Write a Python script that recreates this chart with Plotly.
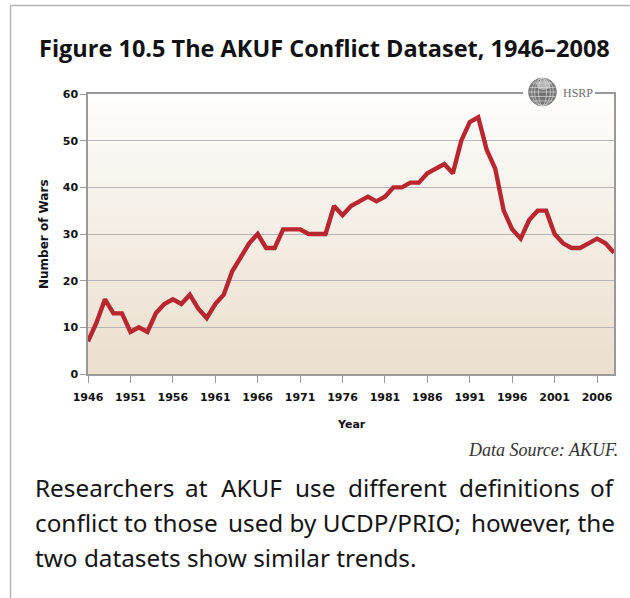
import plotly.graph_objects as go

# ---------------- data ----------------
years = [1946, 1947, 1948, 1949, 1950, 1951, 1952, 1953, 1954, 1955,
         1956, 1957, 1958, 1959, 1960, 1961, 1962, 1963, 1964, 1965,
         1966, 1967, 1968, 1969, 1970, 1971, 1972, 1973, 1974, 1975,
         1976, 1977, 1978, 1979, 1980, 1981, 1982, 1983, 1984, 1985,
         1986, 1987, 1988, 1989, 1990, 1991, 1992, 1993, 1994, 1995,
         1996, 1997, 1998, 1999, 2000, 2001, 2002, 2003, 2004, 2005,
         2006, 2007, 2008]
wars = [7, 11, 16, 13, 13, 9, 10, 9, 13, 15,
        16, 15, 17, 14, 12, 15, 17, 22, 25, 28,
        30, 27, 27, 31, 31, 31, 30, 30, 30, 36,
        34, 36, 37, 38, 37, 38, 40, 40, 41, 41,
        43, 44, 45, 43, 50, 54, 55, 48, 44, 35,
        31, 29, 33, 35, 35, 30, 28, 27, 27, 28,
        29, 28, 26]
x_tick_years = [1946, 1951, 1956, 1961, 1966, 1971, 1976, 1981, 1986, 1991, 1996, 2001, 2006]
x_tick_labels = [str(y) for y in x_tick_years]
y_tick_vals = [0, 10, 20, 30, 40, 50, 60]

title_text = "Figure 10.5 The AKUF Conflict Dataset, 1946\u20132008"
source_text = "Data Source: AKUF."
caption_line1 = ["Researchers", "at", "AKUF", "use", "different", "definitions", "of"]
caption_line2 = ["conflict to those", "used by UCDP/PRIO;", "however, the"]
caption_line3 = "two datasets show similar trends."

# ---------------- geometry helpers (pixel -> paper) ----------------
W, H = 630, 598
ML, MR, MT, MB = 88, 16, 94, 224
PW, PH = W - ML - MR, H - MT - MB


def px(x):
    return (x - ML) / PW


def py(y):
    return (H - MB - y) / PH


fig = go.Figure()
fig.add_trace(go.Scatter(
    x=years, y=wars, mode="lines",
    line=dict(color="#B8262F", width=4.4, shape="linear"),
    hoverinfo="skip", showlegend=False,
))

shapes = []
# vertical gradient background (white top -> beige bottom)
N = 70
top = (255, 255, 255)
bot = (235, 223, 206)
for k in range(N):
    f = 1 - k / N
    c = tuple(int(round(top[i] + (bot[i] - top[i]) * (1 - f + 1 / N) ** 0.9)) for i in range(3))
    shapes.append(dict(type="rect", xref="x domain", yref="y domain",
                       x0=0, x1=1, y0=0, y1=f, layer="below",
                       line=dict(width=0), fillcolor="rgb(%d,%d,%d)" % c))

# page frame lines
shapes.append(dict(type="line", xref="paper", yref="paper",
                   x0=px(10.5), x1=px(640), y0=py(5.5), y1=py(5.5),
                   line=dict(color="#b4b4b4", width=1.5)))
shapes.append(dict(type="line", xref="paper", yref="paper",
                   x0=px(10.5), x1=px(10.5), y0=py(5.5), y1=py(605),
                   line=dict(color="#b4b4b4", width=1.5)))

# white gap behind logo on the top border
shapes.append(dict(type="rect", xref="paper", yref="paper",
                   x0=px(523), x1=px(595), y0=py(89), y1=py(97),
                   line=dict(width=0), fillcolor="white", layer="above"))
# globe
gx, gy, gr = 542.5, 92, 14
shapes.append(dict(type="circle", xref="paper", yref="paper",
                   x0=px(gx - gr), x1=px(gx + gr), y0=py(gy + gr), y1=py(gy - gr),
                   line=dict(color="#8a8a8a", width=0.8), fillcolor="#727272", layer="above"))
shapes.append(dict(type="circle", xref="paper", yref="paper",
                   x0=px(gx - 6), x1=px(gx + 8), y0=py(gy - 2), y1=py(gy - 12),
                   line=dict(width=0), fillcolor="rgba(235,235,235,0.55)", layer="above"))
for dx in (4, 8, 11):
    shapes.append(dict(type="circle", xref="paper", yref="paper",
                       x0=px(gx - dx), x1=px(gx + dx), y0=py(gy + gr - 0.5), y1=py(gy - gr + 0.5),
                       line=dict(color="rgba(220,220,220,0.85)", width=0.8), fillcolor="rgba(0,0,0,0)",
                       layer="above"))
for dy in (-9, -4.5, 0, 4.5, 9):
    half = (gr ** 2 - dy ** 2) ** 0.5 - 0.5
    shapes.append(dict(type="line", xref="paper", yref="paper",
                       x0=px(gx - half), x1=px(gx + half), y0=py(gy + dy), y1=py(gy + dy),
                       line=dict(color="rgba(220,220,220,0.85)", width=0.8), layer="above"))

annotations = []
annotations.append(dict(text="<b>" + title_text + "</b>", xref="paper", yref="paper",
                        x=px(324.5), y=py(48), xanchor="center", yanchor="middle", showarrow=False,
                        font=dict(family="Open Sans", size=23.5, color="#111111")))
annotations.append(dict(text="HSRP", xref="paper", yref="paper",
                        x=px(561), y=py(92.5), xanchor="left", yanchor="middle", showarrow=False,
                        font=dict(family="Liberation Serif", size=12, color="#707070")))
annotations.append(dict(text="<b>Number of Wars</b>", xref="paper", yref="paper",
                        x=px(44), y=py(234), xanchor="center", yanchor="middle", showarrow=False,
                        textangle=-90, font=dict(family="DejaVu Sans", size=12, color="#111111")))
annotations.append(dict(text="<b>Year</b>", xref="paper", yref="paper",
                        x=px(351), y=py(424), xanchor="center", yanchor="middle", showarrow=False,
                        font=dict(family="DejaVu Sans", size=11, color="#111111")))
annotations.append(dict(text="<i>" + source_text + "</i>", xref="paper", yref="paper",
                        x=px(620), y=py(450), xanchor="right", yanchor="middle", showarrow=False,
                        font=dict(family="Liberation Serif", size=18, color="#333333")))

cap_font = dict(family="Noto Sans", size=24.3, color="#141414")
# justified first line: word centres
word_centers = [102, 196, 251, 315, 397, 519, 604]
for i, (w, cx) in enumerate(zip(caption_line1, word_centers)):
    if i == 0:
        xa, xx = "left", 33
    elif i == len(caption_line1) - 1:
        xa, xx = "right", 617
    else:
        xa, xx = "center", cx
    annotations.append(dict(text=w, xref="paper", yref="paper", x=px(xx), y=py(487),
                            xanchor=xa, yanchor="middle", showarrow=False, font=cap_font))
for txt, xa, xx in zip(caption_line2, ["left", "center", "right"], [33, 344, 617]):
    annotations.append(dict(text=txt, xref="paper", yref="paper", x=px(xx), y=py(522),
                            xanchor=xa, yanchor="middle", showarrow=False, font=cap_font))
annotations.append(dict(text=caption_line3, xref="paper", yref="paper", x=px(33), y=py(557),
                        xanchor="left", yanchor="middle", showarrow=False, font=cap_font))

tick_font = dict(family="DejaVu Sans", size=11, color="#111111")
fig.update_layout(
    width=W, height=H,
    margin=dict(l=ML, r=MR, t=MT, b=MB, pad=0),
    paper_bgcolor="white", plot_bgcolor="white",
    shapes=shapes, annotations=annotations,
    showlegend=False,
    xaxis=dict(range=[1946, 2008], tickmode="array", tickvals=x_tick_years,
               ticktext=["<b>" + t + "</b>" for t in x_tick_labels],
               showgrid=False, zeroline=False, showline=True, linecolor="#9a9a9a", linewidth=1.5,
               mirror=True, ticks="outside", ticklen=7, tickwidth=1.2, tickcolor="#9a9a9a",
               ticklabelstandoff=5, tickfont=tick_font, fixedrange=True),
    yaxis=dict(range=[0, 60], tickmode="array", tickvals=y_tick_vals,
               ticktext=["<b>%d</b>" % v for v in y_tick_vals],
               showgrid=True, gridcolor="#b5b5b5", gridwidth=1.2, zeroline=False,
               showline=True, linecolor="#9a9a9a", linewidth=1.5, mirror=True,
               ticks="outside", ticklen=6, tickwidth=1.2, tickcolor="#9a9a9a",
               tickfont=tick_font, fixedrange=True),
)

fig.write_html("out.html", config={"displayModeBar": False},
               post_script="document.body.style.margin='0px';document.body.style.overflow='hidden';")
